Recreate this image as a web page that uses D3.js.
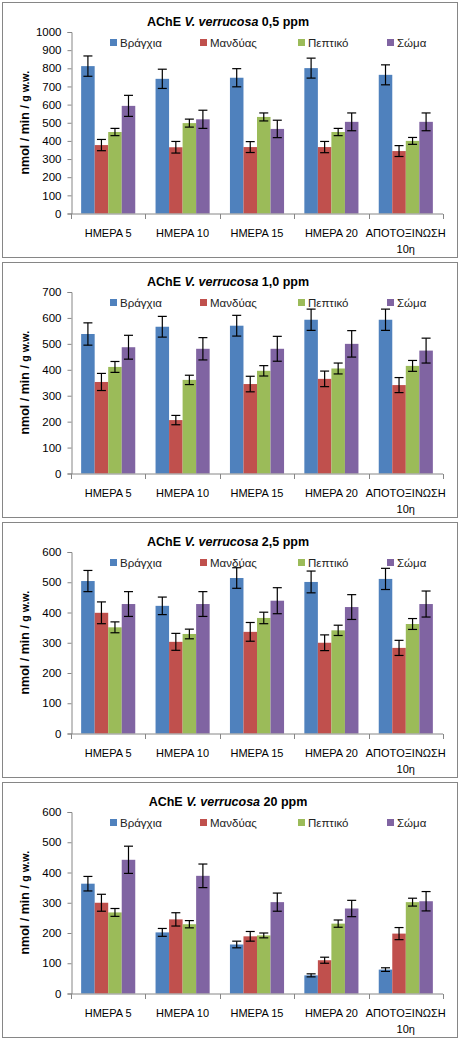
<!DOCTYPE html>
<html>
<head>
<meta charset="utf-8">
<script src="https://cdn.jsdelivr.net/npm/d3@7"></script>
<style>
  html, body { margin: 0; padding: 0; background: #ffffff; }
  svg { display: block; }
  text { font-family: "Liberation Sans", Arial, sans-serif; fill: #000; }
</style>
</head>
<body>
<svg id="chart" width="470" height="1045"></svg>
<script>
// ---------- DATA ----------
const categories = ["ΗΜΕΡΑ 5", "ΗΜΕΡΑ 10", "ΗΜΕΡΑ 15", "ΗΜΕΡΑ 20", "ΑΠΟΤΟΞΙΝΩΣΗ|10η"];
const seriesNames = ["Βράγχια", "Μανδύας", "Πεπτικό", "Σώμα"];
const seriesColors = ["#4F81BD", "#C0504D", "#9BBB59", "#8064A2"];
const concentrations = ["0,5", "1,0", "2,5", "20"];
const yMaxes = [1000, 700, 600, 600];
const yTicks05 = [0, 100, 200, 300, 400, 500, 600, 700, 800, 900, 1000];
const yTicks10 = [0, 100, 200, 300, 400, 500, 600, 700];
const yTicks25 = [0, 100, 200, 300, 400, 500, 600];
const yTicks20 = [0, 100, 200, 300, 400, 500, 600];

// values: rows = series (Βράγχια, Μανδύας, Πεπτικό, Σώμα), cols = categories
const values05 = [[812, 742, 748, 801, 764], [377, 365, 366, 366, 344], [449, 498, 532, 449, 400], [593, 519, 466, 505, 505]];
const errors05 = [[56, 53, 50, 55, 55], [31, 32, 30, 31, 30], [20, 22, 22, 20, 19], [58, 50, 48, 49, 49]];
const values10 = [[538, 566, 570, 593, 593], [353, 206, 345, 365, 341], [411, 361, 396, 405, 415], [487, 481, 481, 500, 474]];
const errors10 = [[43, 40, 40, 41, 41], [33, 18, 30, 30, 29], [21, 18, 20, 21, 21], [46, 43, 48, 51, 48]];
const values25 = [[504, 422, 514, 501, 511], [399, 303, 336, 300, 283], [351, 329, 382, 341, 362], [428, 428, 439, 418, 428]];
const errors25 = [[35, 29, 34, 36, 35], [36, 28, 31, 26, 25], [18, 16, 19, 17, 18], [41, 41, 43, 41, 43]];
const values20 = [[363, 202, 162, 60, 79], [300, 245, 189, 110, 198], [268, 229, 192, 231, 302], [442, 389, 302, 281, 305]];
const errors20 = [[24, 13, 11, 5, 6], [28, 22, 16, 10, 20], [13, 12, 8, 12, 13], [45, 39, 30, 27, 32]];

const allValues = [values05, values10, values25, values20];
const allErrors = [errors05, errors10, errors25, errors20];
const allTicks = [yTicks05, yTicks10, yTicks25, yTicks20];

// ---------- DRAW ----------
const svg = d3.select("#chart");
const panelTops = [2, 262, 522, 782];
const panelLeft = 2, panelW = 455, panelH = 255;
const plotLeft = 71, plotRight = 443;

panelTops.forEach((top, pi) => {
  const g = svg.append("g");
  g.append("rect")
    .attr("x", panelLeft + 0.5).attr("y", top + 0.5)
    .attr("width", panelW).attr("height", panelH)
    .attr("fill", "#fff").attr("stroke", "#868686").attr("stroke-width", 1);

  const plotTop = top + 30, plotBottom = top + 211.5;
  const y = d3.scaleLinear().domain([0, yMaxes[pi]]).range([plotBottom, plotTop]);
  const x = d3.scaleBand().domain(categories).range([plotLeft, plotRight]).paddingInner(0).paddingOuter(0);
  const cw = x.bandwidth();
  const gap = cw * 1.5 / 5.5;
  const xs = d3.scaleBand().domain(seriesNames).range([gap / 2, cw - gap / 2]).padding(0);

  // title
  const title = g.append("text")
    .attr("x", (plotLeft + plotRight) / 2 - 29).attr("y", top + 24)
    .attr("text-anchor", "middle")
    .style("font-size", "12.5px").style("font-weight", "bold");
  title.append("tspan").text("AChE ");
  title.append("tspan").style("font-style", "italic").text("V. verrucosa");
  title.append("tspan").text(" " + concentrations[pi] + " ppm");

  // legend
  const legX = [110, 200, 298, 387];
  seriesNames.forEach((s, si) => {
    g.append("rect").attr("x", legX[si]).attr("y", top + 37).attr("width", 7).attr("height", 7)
      .attr("fill", seriesColors[si]);
    g.append("text").attr("x", legX[si] + 10).attr("y", top + 45)
      .style("font-size", "11.5px").style("fill", "#222").text(s);
  });

  // bars
  const vals = allValues[pi], errs = allErrors[pi];
  seriesNames.forEach((s, si) => {
    const sg = g.append("g");
    sg.selectAll("rect").data(categories).join("rect")
      .attr("x", (c) => x(c) + xs(s))
      .attr("y", (c, ci) => y(vals[si][ci]))
      .attr("width", xs.bandwidth())
      .attr("height", (c, ci) => plotBottom - y(vals[si][ci]))
      .attr("fill", seriesColors[si]);
  });
  // error bars
  seriesNames.forEach((s, si) => {
    const eg = g.append("g").attr("stroke", "#000").attr("stroke-width", 1.2);
    categories.forEach((c, ci) => {
      const cx = x(c) + xs(s) + xs.bandwidth() / 2;
      const hi = y(vals[si][ci] + errs[si][ci]);
      const lo = y(vals[si][ci] - errs[si][ci]);
      eg.append("line").attr("x1", cx).attr("x2", cx).attr("y1", hi).attr("y2", lo);
      eg.append("line").attr("x1", cx - 4.5).attr("x2", cx + 4.5).attr("y1", hi).attr("y2", hi);
      eg.append("line").attr("x1", cx - 4.5).attr("x2", cx + 4.5).attr("y1", lo).attr("y2", lo);
    });
  });

  // y axis
  const yAxis = d3.axisLeft(y).tickValues(allTicks[pi]).tickSize(4).tickPadding(6).tickFormat(d3.format("d"));
  const ya = g.append("g").attr("transform", `translate(${plotLeft + 0.5},0)`).call(yAxis);
  ya.select(".domain").attr("stroke", "#868686");
  ya.selectAll(".tick line").attr("stroke", "#868686");
  ya.selectAll(".tick text").style("font-size", "11.5px").style("font-family", "Liberation Sans, Arial, sans-serif").attr("fill", "#000");

  // x axis
  const xa = g.append("g").attr("transform", `translate(0,${plotBottom + 0.5})`);
  xa.append("line").attr("x1", plotLeft).attr("x2", plotRight).attr("y1", 0).attr("y2", 0).attr("stroke", "#868686");
  const bounds = categories.map(c => x(c)).concat([plotRight]);
  xa.selectAll("line.tk").data(bounds).join("line").attr("class", "tk")
    .attr("x1", d => Math.round(d) + 0.5).attr("x2", d => Math.round(d) + 0.5).attr("y1", 0).attr("y2", 5)
    .attr("stroke", "#868686");
  categories.forEach((c) => {
    const lines = c.split("|");
    const t = xa.append("text").attr("x", x(c) + cw / 2).attr("y", 22.5)
      .attr("text-anchor", "middle").style("font-size", "11px");
    lines.forEach((ln, li) => {
      t.append("tspan").attr("x", x(c) + cw / 2).attr("dy", li === 0 ? 0 : 16).text(ln);
    });
  });

  // y axis title
  const yl = g.append("text")
    .attr("transform", `translate(29,${(plotTop + plotBottom) / 2}) rotate(-90)`)
    .attr("text-anchor", "middle").style("font-weight", "bold");
  yl.append("tspan").style("font-size", "12.5px").text("nmol / min / ");
  yl.append("tspan").style("font-size", "10.5px").text("g w.w.");
});
</script>
</body>
</html>
